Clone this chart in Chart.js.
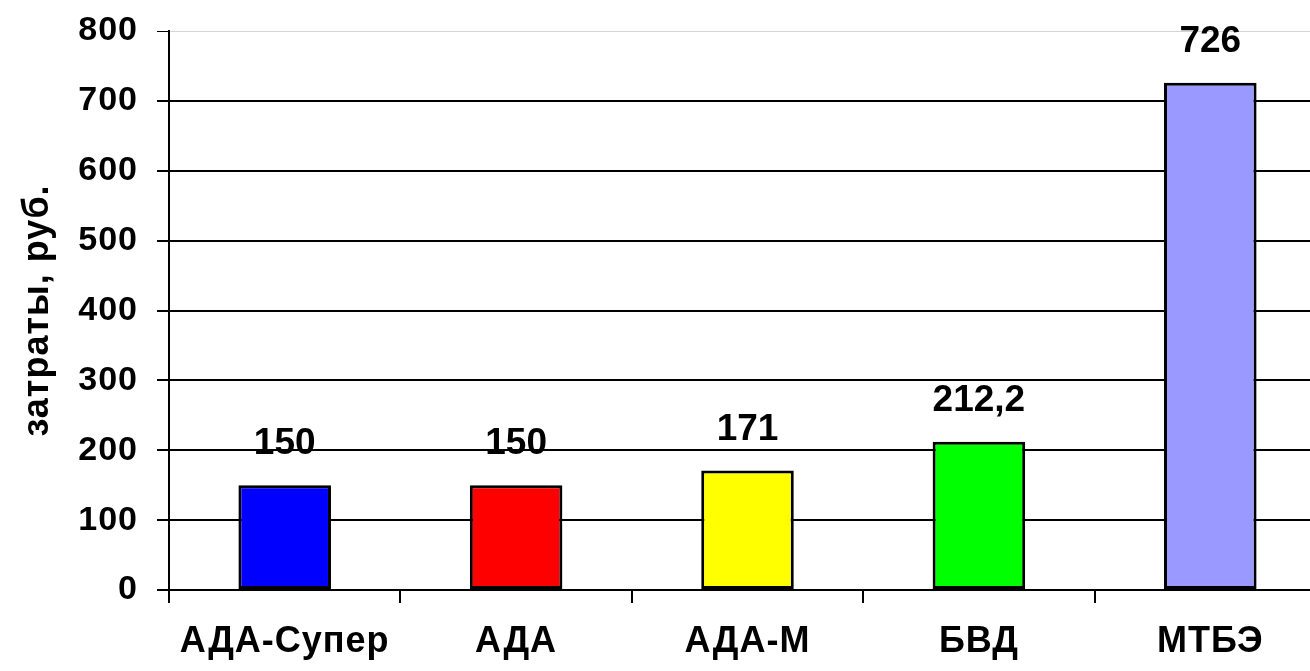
<!DOCTYPE html>
<html>
<head>
<meta charset="utf-8">
<script src="https://cdn.jsdelivr.net/npm/chart.js@4"></script>
<style>
  html, body { margin: 0; padding: 0; background: #fff; overflow: hidden; }
  #wrap { width: 1310px; height: 671px; overflow: hidden; }
</style>
</head>
<body>
<div id="wrap"><canvas id="costChart" width="1330" height="671"></canvas></div>
<script>
// Chart data
const categories = ['АДА-Супер', 'АДА', 'АДА-М', 'БВД', 'МТБЭ'];
const costValues = [150, 150, 171, 212.2, 726];
const barColors = ['#0000FF', '#FF0000', '#FFFF00', '#00FF00', '#9999FF'];
const yTicks = [0, 100, 200, 300, 400, 500, 600, 700, 800];

const FONT = '"Liberation Sans", Arial, sans-serif';

// Slightly spaced axis text, like the original
const spacedText = {
    id: 'spacedText',
    beforeDraw(chart) {
        chart.ctx.letterSpacing = '1px';
    }
};

// Value labels above bars
const valueLabels = {
    id: 'valueLabels',
    afterDatasetsDraw(chart) {
        const ctx = chart.ctx;
        const meta = chart.getDatasetMeta(0);
        ctx.save();
        ctx.letterSpacing = '0px';
        ctx.font = 'bold 37px ' + FONT;
        ctx.fillStyle = '#000';
        ctx.textAlign = 'center';
        ctx.textBaseline = 'middle';
        meta.data.forEach((bar, i) => {
            const text = String(costValues[i]).replace('.', ',');
            ctx.fillText(text, bar.x, bar.y - 41);
        });
        ctx.restore();
    }
};

const ctx = document.getElementById('costChart').getContext('2d');
new Chart(ctx, {
    type: 'bar',
    data: {
        labels: categories,
        datasets: [{
            data: costValues,
            backgroundColor: barColors,
            borderColor: '#000',
            borderWidth: 3,
            borderSkipped: false,
            barPercentage: 0.4,
            categoryPercentage: 1
        }]
    },
    options: {
        responsive: false,
        animation: false,
        devicePixelRatio: 1,
        layout: { padding: { top: 31, right: 4, left: 0, bottom: 0 } },
        plugins: {
            legend: { display: false },
            tooltip: { enabled: false }
        },
        scales: {
            x: {
                grid: {
                    drawOnChartArea: false,
                    drawTicks: true,
                    tickLength: 13,
                    color: '#000',
                    lineWidth: 2
                },
                border: { color: '#000', width: 2 },
                ticks: {
                    color: '#000',
                    padding: 17,
                    font: { family: FONT, size: 36, weight: 'bold' }
                },
                afterFit(scale) { scale.height = 81; }
            },
            y: {
                min: 0,
                max: 800,
                afterBuildTicks(scale) {
                    scale.ticks = yTicks.map(v => ({ value: v }));
                },
                grid: {
                    color: c => (c.tick && c.tick.value === 800) ? '#d4d4d4' : '#000',
                    tickColor: '#000',
                    lineWidth: c => (c.tick && c.tick.value === 800) ? 1 : 2,
                    tickLength: 12
                },
                border: { color: '#000', width: 2 },
                ticks: {
                    color: '#000',
                    padding: 19,
                    font: { family: FONT, size: 34, weight: 'bold', lineHeight: 0.6 }
                },
                title: {
                    display: true,
                    text: 'затраты, руб.',
                    color: '#000',
                    padding: { top: 16, bottom: 0 },
                    font: { family: FONT, size: 36, weight: 'bold' }
                },
                afterFit(scale) { scale.width = 169; }
            }
        }
    },
    plugins: [spacedText, valueLabels]
});
</script>
</body>
</html>
